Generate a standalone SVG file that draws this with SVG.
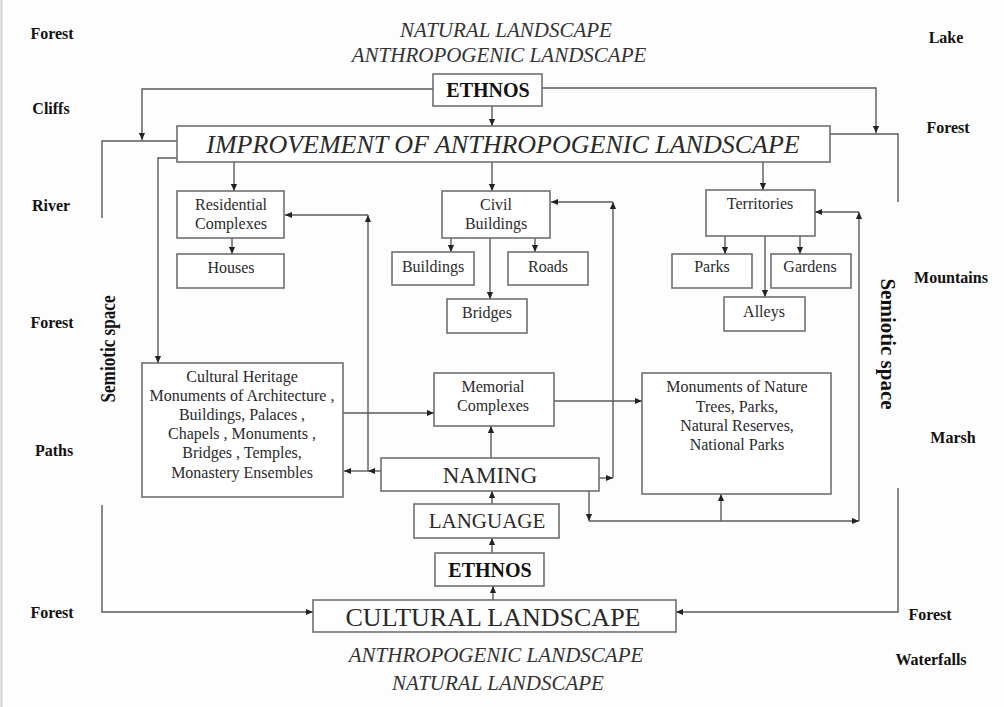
<svg xmlns="http://www.w3.org/2000/svg" width="1004" height="707" viewBox="0 0 1004 707">
<style>
.bg{fill:#fdfdfd}
.box{fill:#ffffff;stroke:#707070;stroke-width:1.6}
.ln{fill:none;stroke:#5a5a5a;stroke-width:1.4}
.t{font-family:"Liberation Serif","Times New Roman",serif;fill:#2a2a2a;text-anchor:middle}
.s16{font-size:16px}
.lbl{font-family:"Liberation Serif","Times New Roman",serif;font-weight:bold;font-size:16px;fill:#111;text-anchor:middle}
.it{font-family:"Liberation Serif","Times New Roman",serif;font-style:italic;font-size:21px;fill:#333;text-anchor:middle}
.sem{font-family:"Liberation Serif","Times New Roman",serif;font-weight:bold;fill:#111;text-anchor:middle}
</style>
<defs>
<marker id="ah" viewBox="0 0 8 8" refX="8" refY="4" markerWidth="7" markerHeight="7" markerUnits="userSpaceOnUse" orient="auto">
<path d="M0,0.5 L8,4 L0,7.5 z" fill="#222"/>
</marker>
</defs>
<rect class="bg" x="0" y="0" width="1004" height="707"/>
<line x1="1.5" y1="0" x2="1.5" y2="707" stroke="#cfcfcf" stroke-width="2"/>

<g id="outer-labels">
<text class="lbl" x="52" y="39">Forest</text>
<text class="lbl" x="51" y="114">Cliffs</text>
<text class="lbl" x="51" y="211">River</text>
<text class="lbl" x="52" y="328">Forest</text>
<text class="lbl" x="54" y="456">Paths</text>
<text class="lbl" x="52" y="618">Forest</text>
<text class="lbl" x="946" y="43">Lake</text>
<text class="lbl" x="948" y="133">Forest</text>
<text class="lbl" x="951" y="283">Mountains</text>
<text class="lbl" x="953" y="443">Marsh</text>
<text class="lbl" x="930" y="620">Forest</text>
<text class="lbl" x="931" y="665">Waterfalls</text>
<text class="it" x="506" y="37">NATURAL LANDSCAPE</text>
<text class="it" x="499" y="62">ANTHROPOGENIC LANDSCAPE</text>
<text class="it" x="496" y="662">ANTHROPOGENIC LANDSCAPE</text>
<text class="it" x="498" y="690">NATURAL LANDSCAPE</text>
<text class="sem" transform="translate(115,349) rotate(-90)" style="font-size:21px" textLength="107" lengthAdjust="spacingAndGlyphs">Semiotic space</text>
<text class="sem" transform="translate(881,344) rotate(90)" style="font-size:21px">Semiotic space</text>
</g>

<g id="connectors">
<polyline class="ln" points="433,89 142,89 142,140" marker-end="url(#ah)"/>
<polyline class="ln" points="542,88 876,88 876,133" marker-end="url(#ah)"/>
<line class="ln" x1="492" y1="106" x2="492" y2="126" marker-end="url(#ah)"/>
<polyline class="ln" points="177,141 102,141 102,218"/>
<polyline class="ln" points="830,134 898,134 898,202"/>
<polyline class="ln" points="177,158 158,158 158,363" marker-end="url(#ah)"/>
<line class="ln" x1="234" y1="162" x2="234" y2="191" marker-end="url(#ah)"/>
<line class="ln" x1="492" y1="162" x2="492" y2="191" marker-end="url(#ah)"/>
<line class="ln" x1="763" y1="162" x2="763" y2="190" marker-end="url(#ah)"/>
<line class="ln" x1="232" y1="238" x2="232" y2="254" marker-end="url(#ah)"/>
<line class="ln" x1="451" y1="238" x2="451" y2="252" marker-end="url(#ah)"/>
<line class="ln" x1="535" y1="238" x2="535" y2="252" marker-end="url(#ah)"/>
<line class="ln" x1="490" y1="238" x2="490" y2="299" marker-end="url(#ah)"/>
<line class="ln" x1="725" y1="236" x2="725" y2="254" marker-end="url(#ah)"/>
<line class="ln" x1="800" y1="236" x2="800" y2="254" marker-end="url(#ah)"/>
<line class="ln" x1="765" y1="236" x2="765" y2="297" marker-end="url(#ah)"/>
<line class="ln" x1="381" y1="471" x2="368" y2="471" marker-end="url(#ah)"/>
<line class="ln" x1="368" y1="471" x2="344" y2="471" marker-end="url(#ah)"/>
<line class="ln" x1="368" y1="471" x2="368" y2="215" marker-end="url(#ah)"/>
<line class="ln" x1="368" y1="215" x2="285" y2="215" marker-end="url(#ah)"/>
<line class="ln" x1="599" y1="478" x2="613" y2="478" marker-end="url(#ah)"/>
<line class="ln" x1="613" y1="478" x2="613" y2="202" marker-end="url(#ah)"/>
<line class="ln" x1="613" y1="202" x2="551" y2="202" marker-end="url(#ah)"/>
<line class="ln" x1="589" y1="491" x2="589" y2="521" marker-end="url(#ah)"/>
<line class="ln" x1="589" y1="521" x2="859" y2="521" marker-end="url(#ah)"/>
<line class="ln" x1="721" y1="521" x2="721" y2="494" marker-end="url(#ah)"/>
<line class="ln" x1="859" y1="521" x2="859" y2="212" marker-end="url(#ah)"/>
<line class="ln" x1="859" y1="212" x2="815" y2="212" marker-end="url(#ah)"/>
<line class="ln" x1="343" y1="413" x2="434" y2="413" marker-end="url(#ah)"/>
<line class="ln" x1="554" y1="401" x2="642" y2="401" marker-end="url(#ah)"/>
<line class="ln" x1="491" y1="458" x2="491" y2="426" marker-end="url(#ah)"/>
<line class="ln" x1="492" y1="504" x2="492" y2="491" marker-end="url(#ah)"/>
<line class="ln" x1="492" y1="553" x2="492" y2="538" marker-end="url(#ah)"/>
<line class="ln" x1="493" y1="600" x2="493" y2="586" marker-end="url(#ah)"/>
<polyline class="ln" points="102,505 102,612 313,612" marker-end="url(#ah)"/>
<polyline class="ln" points="898,488 898,612 676,612" marker-end="url(#ah)"/>
</g>

<g id="ethnos-top">
<rect class="box" x="433" y="74" width="109" height="32"/>
<text class="t" x="488" y="97" style="font-size:20px;font-weight:bold;fill:#111">ETHNOS</text>
</g>
<g id="improvement">
<rect class="box" x="177" y="126" width="653" height="36"/>
<text class="t" x="503" y="153" style="font-size:26px;font-style:italic">IMPROVEMENT OF ANTHROPOGENIC LANDSCAPE</text>
</g>
<g id="residential">
<rect class="box" x="177" y="191" width="107" height="47"/>
<text class="t s16" x="231" y="210">Residential</text>
<text class="t s16" x="231" y="229">Complexes</text>
</g>
<g id="houses">
<rect class="box" x="177" y="254" width="107" height="34"/>
<text class="t s16" x="231" y="273">Houses</text>
</g>
<g id="civil">
<rect class="box" x="442" y="191" width="108" height="47"/>
<text class="t s16" x="496" y="210">Civil</text>
<text class="t s16" x="496" y="229">Buildings</text>
</g>
<g id="buildings">
<rect class="box" x="392" y="252" width="82" height="33"/>
<text class="t s16" x="433" y="272">Buildings</text>
</g>
<g id="roads">
<rect class="box" x="508" y="252" width="80" height="33"/>
<text class="t s16" x="548" y="272">Roads</text>
</g>
<g id="bridges">
<rect class="box" x="447" y="299" width="80" height="34"/>
<text class="t s16" x="487" y="318">Bridges</text>
</g>
<g id="territories">
<rect class="box" x="706" y="190" width="109" height="46"/>
<text class="t s16" x="760" y="209">Territories</text>
</g>
<g id="parks">
<rect class="box" x="672" y="254" width="80" height="34"/>
<text class="t s16" x="712" y="272">Parks</text>
</g>
<g id="gardens">
<rect class="box" x="771" y="254" width="80" height="34"/>
<text class="t s16" x="810" y="272">Gardens</text>
</g>
<g id="alleys">
<rect class="box" x="724" y="297" width="81" height="34"/>
<text class="t s16" x="764" y="317">Alleys</text>
</g>
<g id="cultural-heritage">
<rect class="box" x="142" y="363" width="201" height="134"/>
<text class="t s16" x="242" y="382">Cultural Heritage</text>
<text class="t s16" x="242" y="401">Monuments of Architecture ,</text>
<text class="t s16" x="242" y="420">Buildings, Palaces ,</text>
<text class="t s16" x="242" y="439">Chapels , Monuments ,</text>
<text class="t s16" x="242" y="458">Bridges , Temples,</text>
<text class="t s16" x="242" y="478">Monastery Ensembles</text>
</g>
<g id="memorial">
<rect class="box" x="434" y="373" width="120" height="53"/>
<text class="t s16" x="493" y="392">Memorial</text>
<text class="t s16" x="493" y="411">Complexes</text>
</g>
<g id="monuments-nature">
<rect class="box" x="642" y="373" width="189" height="121"/>
<text class="t s16" x="737" y="392">Monuments of Nature</text>
<text class="t s16" x="737" y="412">Trees, Parks,</text>
<text class="t s16" x="737" y="431">Natural Reserves,</text>
<text class="t s16" x="737" y="450">National Parks</text>
</g>
<g id="naming">
<rect class="box" x="381" y="458" width="218" height="33"/>
<text class="t" x="490" y="483" style="font-size:23px">NAMING</text>
</g>
<g id="language">
<rect class="box" x="414" y="504" width="145" height="34"/>
<text class="t" x="487" y="528" style="font-size:21px">LANGUAGE</text>
</g>
<g id="ethnos-bottom">
<rect class="box" x="435" y="553" width="109" height="33"/>
<text class="t" x="490" y="577" style="font-size:20px;font-weight:bold;fill:#111">ETHNOS</text>
</g>
<g id="cultural-landscape">
<rect class="box" x="313" y="600" width="363" height="32"/>
<text class="t" x="493" y="626" style="font-size:26px">CULTURAL LANDSCAPE</text>
</g>
</svg>
